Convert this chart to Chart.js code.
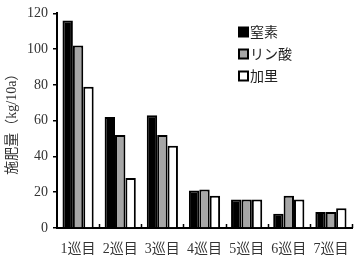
<!DOCTYPE html>
<html>
<head>
<meta charset="utf-8">
<script src="https://cdn.jsdelivr.net/npm/chart.js@4.4.1/dist/chart.umd.min.js"></script>
<style>
  html, body { margin: 0; padding: 0; background: #fff; }
  #wrap { width: 360px; height: 257px; }
</style>
</head>
<body>
<div id="wrap"><canvas id="c"></canvas></div>
<script>
// data
const rounds = ['1巡目', '2巡目', '3巡目', '4巡目', '5巡目', '6巡目', '7巡目'];
const nitrogen = [116, 62, 63, 21, 16, 8, 9];
const phosphate = [102, 52, 52, 21.5, 16, 18, 9];
const potash = [79, 28, 46, 18, 16, 16, 11];
const seriesNames = ['窒素', 'リン酸', '加里'];
const yTicks = [0, 20, 40, 60, 80, 100, 120];

const FONT = "'Liberation Serif', 'Noto Sans CJK JP', serif";

// small upward ticks on the x axis between categories
const xTickPlugin = {
  id: 'xTicks',
  afterDraw(chart) {
    const ctx = chart.ctx, area = chart.chartArea;
    const step = (area.right - area.left) / rounds.length;
    ctx.save();
    ctx.strokeStyle = '#000';
    ctx.lineWidth = 1.5;
    for (let i = 1; i <= rounds.length; i++) {
      const px = Math.round(area.left + step * i) + 0.5;
      ctx.beginPath();
      ctx.moveTo(px, area.bottom);
      ctx.lineTo(px, area.bottom - 4);
      ctx.stroke();
    }
    ctx.restore();
  }
};

// legend drawn inside the plot, upper right
const legendPlugin = {
  id: 'boxLegend',
  afterDraw(chart) {
    const ctx = chart.ctx;
    ctx.save();
    ctx.font = '14px ' + FONT;
    ctx.textBaseline = 'middle';
    chart.data.datasets.forEach((ds, i) => {
      const y = 32 + i * 22;
      const x = 239;
      ctx.fillStyle = ds.backgroundColor;
      ctx.fillRect(x, y - 4.5, 9, 9);
      ctx.strokeStyle = '#000';
      ctx.lineWidth = 2;
      ctx.strokeRect(x, y - 4.5, 9, 9);
      ctx.fillStyle = '#222';
      ctx.fillText(ds.label, x + 11, y + 1);
    });
    ctx.restore();
  }
};

new Chart(document.getElementById('c'), {
  type: 'bar',
  data: {
    labels: rounds,
    datasets: [
      { label: seriesNames[0], data: nitrogen, backgroundColor: '#000000' },
      { label: seriesNames[1], data: phosphate, backgroundColor: '#a6a6a6' },
      { label: seriesNames[2], data: potash, backgroundColor: '#ffffff' }
    ].map(d => Object.assign(d, {
      borderColor: '#000', borderWidth: 2, borderSkipped: 'bottom',
      categoryPercentage: 0.74, barPercentage: 1
    }))
  },
  options: {
    responsive: true,
    maintainAspectRatio: false,
    animation: false,
    layout: { padding: { left: 0, right: 8, top: 0, bottom: 0 } },
    plugins: { legend: { display: false }, tooltip: { enabled: false } },
    scales: {
      x: {
        grid: { display: false },
        border: { display: true, color: '#000', width: 2 },
        ticks: { color: '#333', font: { family: FONT, size: 14 }, padding: 5 },
        afterFit(s) { s.height = 29; }
      },
      y: {
        min: 0, max: 120,
        afterBuildTicks(s) { s.ticks = yTicks.map(v => ({ value: v })); },
        grid: { display: true, drawOnChartArea: false, tickLength: 4, color: '#000', lineWidth: 1.5 },
        border: { display: true, color: '#000', width: 2 },
        ticks: { color: '#333', font: { family: FONT, size: 14 }, padding: 5 },
        title: { display: true, text: '施肥量（kg/10a）', color: '#333', font: { family: FONT, size: 14 }, padding: { top: 4, bottom: 0 } },
        afterFit(s) { s.width = 57; }
      }
    }
  },
  plugins: [xTickPlugin, legendPlugin]
});
</script>
</body>
</html>
